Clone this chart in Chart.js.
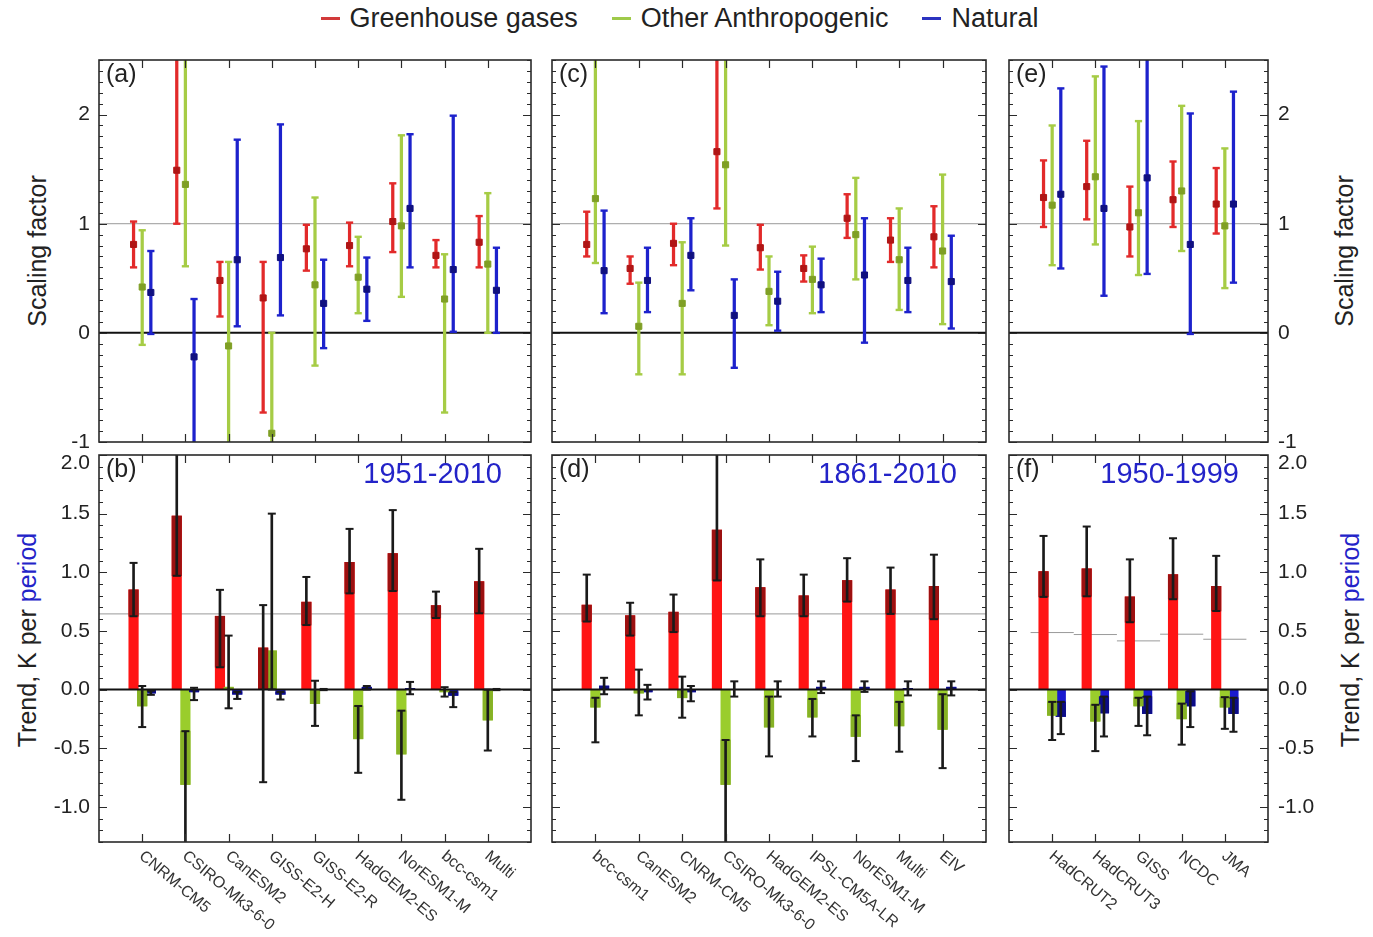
<!DOCTYPE html>
<html><head><meta charset="utf-8">
<script src="https://cdn.jsdelivr.net/npm/chart.js@4.4.1/dist/chart.umd.min.js"></script>
<style>
html,body{margin:0;padding:0;background:#fff;}
body{width:1373px;height:937px;position:relative;overflow:hidden;font-family:'Liberation Sans',Arial,sans-serif;color:#222;}
canvas{position:absolute;}
.ttl{position:absolute;white-space:nowrap;font-size:25px;transform:translate(-50%,-50%) rotate(-90deg);color:#222;}
.per{color:#2323c8;}
#legend{position:absolute;top:3px;left:0;width:1373px;display:flex;justify-content:center;align-items:center;font-size:27px;color:#222;padding-right:14px;box-sizing:border-box;}
#legend .it{display:flex;align-items:center;margin:0 17px;}
#legend i{display:inline-block;width:19px;height:3px;margin-right:10px;}
</style></head><body>
<div id="legend">
  <span class="it"><i style="background:#d23a3a"></i>Greenhouse gases</span>
  <span class="it"><i style="background:#9fca4a"></i>Other Anthropogenic</span>
  <span class="it"><i style="background:#2b33c0"></i>Natural</span>
</div>
<div class="ttl" style="left:37px;top:251px;">Scaling factor</div>
<div class="ttl" style="left:27px;top:640px;">Trend, K per <span class="per">period</span></div>
<div class="ttl" style="left:1344px;top:251px;">Scaling factor</div>
<div class="ttl" style="left:1350px;top:640px;">Trend, K per <span class="per">period</span></div>
<script>
// ---------------- DATA ----------------
const SERIES = ['Greenhouse gases', 'Other Anthropogenic', 'Natural'];
const CATS_A = ['CNRM-CM5','CSIRO-Mk3-6-0','CanESM2','GISS-E2-H','GISS-E2-R','HadGEM2-ES','NorESM1-M','bcc-csm1','Multi'];
const CATS_C = ['bcc-csm1','CanESM2','CNRM-CM5','CSIRO-Mk3-6-0','HadGEM2-ES','IPSL-CM5A-LR','NorESM1-M','Multi','EIV'];
const CATS_E = ['HadCRUT2','HadCRUT3','GISS','NCDC','JMA'];
const PERIODS = ['1951-2010', '1861-2010', '1950-1999'];

const SF_TICKS = [-1, 0, 1, 2];
const TR_TICKS = [-1.0, -0.5, 0.0, 0.5, 1.0, 1.5, 2.0];

// scaling factors: [best, 5%, 95%]
const SF_A_GHG = [[0.81,0.60,1.02],[1.49,1.00,3.2],[0.48,0.15,0.65],[0.32,-0.73,0.65],[0.77,0.57,0.99],[0.80,0.61,1.01],[1.02,0.74,1.37],[0.71,0.60,0.85],[0.83,0.60,1.07]];
const SF_A_OTH = [[0.42,-0.11,0.94],[1.36,0.61,3.5],[-0.12,-1.3,0.65],[-0.92,-2.0,0.0],[0.44,-0.30,1.24],[0.51,0.18,0.88],[0.98,0.33,1.81],[0.31,-0.73,0.72],[0.63,0.0,1.28]];
const SF_A_NAT = [[0.37,-0.01,0.75],[-0.22,-1.6,0.31],[0.67,0.06,1.77],[0.69,0.16,1.91],[0.27,-0.14,0.67],[0.40,0.11,0.69],[1.14,0.60,1.82],[0.58,0.01,1.99],[0.39,0.0,0.78]];

const SF_C_GHG = [[0.81,0.70,1.11],[0.59,0.45,0.70],[0.82,0.62,1.00],[1.66,1.14,2.8],[0.78,0.58,0.99],[0.59,0.47,0.71],[1.05,0.87,1.27],[0.85,0.65,1.05],[0.88,0.60,1.16]];
const SF_C_OTH = [[1.23,0.64,3.0],[0.06,-0.38,0.46],[0.27,-0.38,0.83],[1.54,0.80,3.0],[0.38,0.07,0.70],[0.49,0.18,0.79],[0.90,0.49,1.42],[0.67,0.21,1.14],[0.75,0.08,1.45]];
const SF_C_NAT = [[0.57,0.18,1.12],[0.48,0.19,0.78],[0.71,0.39,1.05],[0.16,-0.32,0.49],[0.29,0.02,0.56],[0.44,0.19,0.68],[0.53,-0.09,1.05],[0.48,0.19,0.78],[0.47,0.04,0.89]];

const SF_E_GHG = [[1.24,0.97,1.58],[1.34,1.04,1.76],[0.97,0.70,1.34],[1.22,0.97,1.57],[1.18,0.91,1.51]];
const SF_E_OTH = [[1.17,0.62,1.90],[1.43,0.81,2.35],[1.10,0.53,1.94],[1.30,0.75,2.08],[0.98,0.41,1.69]];
const SF_E_NAT = [[1.27,0.59,2.24],[1.14,0.34,2.44],[1.42,0.54,2.7],[0.81,-0.01,2.01],[1.18,0.46,2.21]];

// attributable trends (K per period): [best, 5%, 95%]
const TR_B_GHG = [[0.85,0.625,1.08],[1.48,0.97,2.4],[0.625,0.19,0.85],[0.355,-0.79,0.72],[0.745,0.55,0.96],[1.085,0.82,1.37],[1.16,0.84,1.53],[0.716,0.61,0.835],[0.92,0.65,1.20]];
const TR_B_OTH = [[-0.14,-0.32,0.03],[-0.81,-1.6,-0.355],[0.02,-0.16,0.46],[0.33,0.0,1.5],[-0.12,-0.31,0.075],[-0.42,-0.71,-0.14],[-0.55,-0.94,-0.18],[-0.02,-0.06,0.02],[-0.26,-0.52,0.0]];
const TR_B_NAT = [[-0.03,-0.045,-0.01],[-0.02,-0.09,0.015],[-0.04,-0.08,-0.02],[-0.04,-0.085,-0.02],[0.0,-0.005,0.005],[0.02,0.0,0.03],[0.01,-0.04,0.065],[-0.05,-0.15,-0.02],[0.0,-0.005,0.005]];

const TR_D_GHG = [[0.72,0.58,0.98],[0.63,0.46,0.74],[0.66,0.49,0.81],[1.36,0.93,2.2],[0.87,0.625,1.11],[0.80,0.625,0.98],[0.93,0.75,1.12],[0.85,0.645,1.04],[0.88,0.60,1.15]];
const TR_D_OTH = [[-0.15,-0.45,-0.07],[-0.03,-0.22,0.17],[-0.07,-0.24,0.11],[-0.81,-1.5,-0.43],[-0.32,-0.57,-0.06],[-0.235,-0.40,-0.08],[-0.40,-0.61,-0.22],[-0.31,-0.53,-0.105],[-0.34,-0.67,-0.04]];
const TR_D_NAT = [[0.03,-0.04,0.10],[-0.02,-0.085,0.04],[-0.02,-0.10,0.03],[0.0,-0.06,0.07],[0.0,-0.06,0.07],[0.02,-0.03,0.07],[0.02,-0.02,0.07],[0.01,-0.05,0.07],[0.02,-0.05,0.07]];

const TR_F_GHG = [[1.006,0.79,1.31],[1.03,0.795,1.39],[0.79,0.574,1.11],[0.98,0.77,1.29],[0.88,0.67,1.14]];
const TR_F_OTH = [[-0.22,-0.43,-0.105],[-0.27,-0.525,-0.13],[-0.14,-0.31,-0.07],[-0.25,-0.47,-0.12],[-0.15,-0.335,-0.065]];
const TR_F_NAT = [[-0.23,-0.38,-0.105],[-0.20,-0.40,-0.06],[-0.205,-0.39,-0.06],[-0.14,-0.32,-0.015],[-0.205,-0.36,-0.07]];

// observed trends (grey lines)
const OBS_B = [0.645];
const OBS_D = [0.645];
const OBS_F = [0.486, 0.469, 0.415, 0.472, 0.429];

// ---------------- STYLE ----------------
const FONT = "'Liberation Sans', Arial, sans-serif";
Chart.defaults.font.family = FONT;
const OFFS = [-0.2, 0, 0.2];
const SF_COL  = ['#e22a2a', '#a6cc45', '#1d22cc'];
const SF_DARK = ['#b01515', '#7f9f25', '#101080'];
const BAR_COL  = ['#ff1414', '#9acd2c', '#1a1ad0'];
const BAR_DARK = ['#9c1010', '#86b225', '#0c0c86'];
const BLUE_TXT = '#2323c8';

function sfDatasets(tr, k) {
  const xs = tr.map((d, i) => i + 1 + OFFS[k]);
  return [
    { type: 'bar', label: SERIES[k], data: tr.map((d, i) => ({ x: xs[i], y: [d[1], d[2]] })),
      backgroundColor: SF_COL[k], barThickness: 2.6, grouped: false, order: 20, clip: 0 },
    { type: 'scatter', data: tr.flatMap((d, i) => [{ x: xs[i], y: d[1] }, { x: xs[i], y: d[2] }]),
      pointStyle: 'line', pointRadius: 3.6, pointBorderWidth: 2.4, pointBorderColor: SF_COL[k],
      pointBackgroundColor: SF_COL[k], order: 15, clip: 0 },
    { type: 'scatter', data: tr.map((d, i) => ({ x: xs[i], y: d[0] })),
      pointStyle: 'rect', pointRadius: 4.3, pointBorderWidth: 1, pointBorderColor: SF_DARK[k],
      pointBackgroundColor: SF_DARK[k], order: 10, clip: 0 }
  ];
}

function trDatasets(tr, k) {
  const xs = tr.map((d, i) => i + 1 + OFFS[k]);
  const over = tr.map((d, i) => {
    const v = d[0], lo = d[1], hi = d[2];
    let a, b;
    if (v >= 0) { a = Math.max(lo, 0); b = Math.min(hi, v); }
    else { a = Math.max(lo, v); b = Math.min(hi, 0); }
    return { x: xs[i], y: b > a ? [a, b] : null };
  });
  return [
    { type: 'bar', label: SERIES[k], data: tr.map((d, i) => ({ x: xs[i], y: d[0] })),
      backgroundColor: BAR_COL[k], barThickness: 9.5, grouped: false, order: 50, clip: 0 },
    { type: 'bar', data: over, backgroundColor: BAR_DARK[k], barThickness: 9.5, grouped: false, order: 45, clip: 0 },
    { type: 'bar', data: tr.map((d, i) => ({ x: xs[i], y: [d[1], d[2]] })),
      backgroundColor: '#1a1a1a', barThickness: 2, grouped: false, order: 20, clip: 0 },
    { type: 'scatter', data: tr.flatMap((d, i) => [{ x: xs[i], y: d[1] }, { x: xs[i], y: d[2] }]),
      pointStyle: 'line', pointRadius: 4, pointBorderWidth: 2, pointBorderColor: '#1a1a1a',
      pointBackgroundColor: '#1a1a1a', order: 15, clip: 0 }
  ];
}

function hline(y, x0, x1, color, width, order) {
  return { type: 'line', data: [{ x: x0, y: y }, { x: x1, y: y }], borderColor: color, borderWidth: width,
           pointRadius: 0, order: order, clip: 0 };
}

const framePlugin = {
  id: 'frame',
  afterDraw(chart, args, o) {
    const { ctx, chartArea: a } = chart;
    const xs = chart.scales.x, ys = chart.scales.y;
    ctx.save();
    ctx.strokeStyle = '#2a2a2a';
    ctx.lineWidth = 1.2;
    ctx.beginPath();
    const n0 = Math.round(ys.min / o.minor), n1 = Math.round(ys.max / o.minor);
    for (let n = n0; n <= n1; n++) {
      const v = n * o.minor;
      const major = Math.abs(v / o.major - Math.round(v / o.major)) < 1e-6;
      const len = major ? 8 : 4;
      const py = Math.round(ys.getPixelForValue(v)) + 0.5;
      ctx.moveTo(a.left, py); ctx.lineTo(a.left + len, py);
      ctx.moveTo(a.right, py); ctx.lineTo(a.right - len, py);
    }
    for (let i = 1; i <= o.cats.length; i++) {
      const px = Math.round(xs.getPixelForValue(i)) + 0.5;
      ctx.moveTo(px, a.top); ctx.lineTo(px, a.top + 8);
      ctx.moveTo(px, a.bottom); ctx.lineTo(px, a.bottom - 8);
    }
    ctx.stroke();
    ctx.lineWidth = 1.6;
    ctx.strokeRect(a.left, a.top, a.width, a.height);
    // panel letter
    ctx.fillStyle = '#222';
    ctx.font = '25px ' + FONT;
    ctx.textAlign = 'left'; ctx.textBaseline = 'middle';
    ctx.fillText(o.label, a.left + 7, a.top + 15);
    if (o.period) {
      ctx.fillStyle = BLUE_TXT;
      ctx.font = '29px ' + FONT;
      ctx.textAlign = 'right';
      ctx.fillText(o.period, a.right - 29, a.top + 20);
    }
    if (o.showCats) {
      ctx.fillStyle = '#333';
      ctx.font = '16px ' + FONT;
      ctx.textAlign = 'left'; ctx.textBaseline = 'middle';
      o.cats.forEach((c, i) => {
        const px = xs.getPixelForValue(i + 1);
        ctx.save();
        ctx.translate(px - 1, a.bottom + 12);
        ctx.rotate(40 * Math.PI / 180);
        ctx.fillText(c, 0, 0);
        ctx.restore();
      });
    }
    ctx.restore();
  }
};

const PANELS = [
  { kind: 'sf', L: 99,  T: 60,  R: 531,  B: 442, padL: 99, padR: 12,  padT: 8, padB: 14, slots: 10, cats: CATS_A, series: [SF_A_GHG, SF_A_OTH, SF_A_NAT], left: true,  right: false, label: '(a)' },
  { kind: 'tr', L: 99,  T: 455, R: 531,  B: 842, padL: 99, padR: 12,  padT: 8, padB: 95, slots: 10, cats: CATS_A, series: [TR_B_GHG, TR_B_OTH, TR_B_NAT], obs: OBS_B, left: true,  right: false, label: '(b)', period: PERIODS[0] },
  { kind: 'sf', L: 552, T: 60,  R: 986,  B: 442, padL: 10, padR: 12,  padT: 8, padB: 14, slots: 10, cats: CATS_C, series: [SF_C_GHG, SF_C_OTH, SF_C_NAT], left: false, right: false, label: '(c)' },
  { kind: 'tr', L: 552, T: 455, R: 986,  B: 842, padL: 10, padR: 12,  padT: 8, padB: 95, slots: 10, cats: CATS_C, series: [TR_D_GHG, TR_D_OTH, TR_D_NAT], obs: OBS_D, left: false, right: false, label: '(d)', period: PERIODS[1] },
  { kind: 'sf', L: 1009, T: 60, R: 1268, B: 442, padL: 10, padR: 105, padT: 8, padB: 14, slots: 6,  cats: CATS_E, series: [SF_E_GHG, SF_E_OTH, SF_E_NAT], left: false, right: true, label: '(e)' },
  { kind: 'tr', L: 1009, T: 455, R: 1268, B: 842, padL: 10, padR: 105, padT: 8, padB: 95, slots: 6,  cats: CATS_E, series: [TR_F_GHG, TR_F_OTH, TR_F_NAT], obs: OBS_F, left: false, right: true, label: '(f)', period: PERIODS[2] }
];

function yAxis(p, position, show, width) {
  const sf = p.kind === 'sf';
  const ticks = sf ? SF_TICKS : TR_TICKS;
  const ymax = sf ? 2.5 : 2.0;
  return {
    type: 'linear', position: position, min: sf ? -1 : -1.3, max: ymax,
    afterBuildTicks: s => { s.ticks = ticks.map(v => ({ value: v })); },
    afterFit: s => { s.width = width; s.paddingTop = 0; s.paddingBottom = 0; },
    grid: { display: false, drawTicks: false }, border: { display: false },
    ticks: {
      display: show, padding: position === 'left' ? 9 : 10, color: '#222',
      font: { size: 21, family: FONT, lineHeight: 0.8 },
      callback: v => {
        const t = sf ? String(v) : v.toFixed(1);
        return (!sf && v === ymax) ? ['', t] : t;
      }
    }
  };
}

PANELS.forEach(p => {
  const W = p.R - p.L, H = p.B - p.T;
  const cv = document.createElement('canvas');
  cv.width = W + p.padL + p.padR; cv.height = H + p.padT + p.padB;
  cv.style.left = (p.L - p.padL) + 'px'; cv.style.top = (p.T - p.padT) + 'px';
  document.body.appendChild(cv);

  let datasets = [];
  if (p.kind === 'sf') {
    p.series.forEach((s, k) => { datasets = datasets.concat(sfDatasets(s, k)); });
    datasets.push(hline(1, 0, p.slots, '#9a9a9a', 1, 60));
    datasets.push(hline(0, 0, p.slots, '#111', 2, 55));
  } else {
    p.series.forEach((s, k) => { datasets = datasets.concat(trDatasets(s, k)); });
    if (p.obs.length === 1) {
      datasets.push(hline(p.obs[0], 0, p.slots, '#9a9a9a', 1, 60));
    } else {
      datasets.push({ type: 'line', data: p.obs.flatMap((v, i) => [{ x: i + 0.5, y: v }, { x: i + 1.5, y: v }, { x: i + 1.5, y: null }]),
        borderColor: '#9a9a9a', borderWidth: 1, pointRadius: 0, spanGaps: false, order: 60, clip: 0 });
    }
    datasets.push(hline(0, 0, p.slots, '#111', 2, 30));
  }

  const scales = {
    x: { type: 'linear', display: false, min: 0, max: p.slots, offset: false },
    y: yAxis(p, 'left', p.left, p.padL)
  };
  if (p.right) scales.y2 = yAxis(p, 'right', true, p.padR);

  new Chart(cv, {
    type: 'bar',
    data: { datasets: datasets },
    options: {
      responsive: false, animation: false, events: [],
      layout: { padding: { left: 0, right: p.right ? 0 : p.padR, top: p.padT, bottom: p.padB } },
      plugins: {
        legend: { display: false }, tooltip: { enabled: false },
        frame: { minor: 0.1, major: p.kind === 'sf' ? 1 : 0.5, cats: p.cats, showCats: p.kind === 'tr',
                 label: p.label, period: p.period }
      },
      scales: scales
    },
    plugins: [framePlugin]
  });
});
</script>
</body></html>
